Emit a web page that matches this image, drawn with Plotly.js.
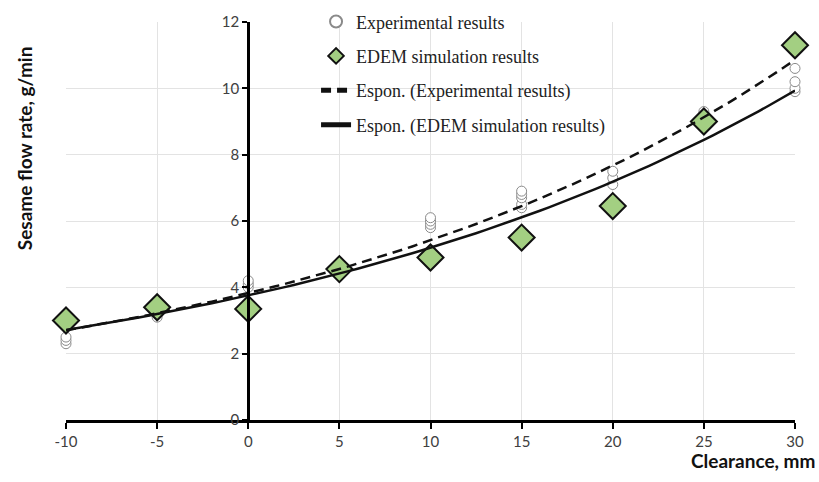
<!DOCTYPE html>
<html>
<head>
<meta charset="utf-8">
<script src="https://cdn.plot.ly/plotly-3.0.1.min.js"></script>
<style>html,body{margin:0;padding:0;background:#fff;}#chart{width:819px;height:482px;}</style>
</head>
<body>
<div id="chart"></div>
<script>
// Clearance (mm) and measured flow rate (g/min)
const expX = [-10,-10,-10,-5,-5,0,0,0,5,5,10,10,10,10,15,15,15,15,15,20,20,20,25,25,30,30,30,30];
const expY = [2.3,2.4,2.5,3.1,3.2,4.0,4.1,4.2,4.6,4.7,5.8,5.9,6.0,6.1,6.4,6.5,6.7,6.8,6.9,7.1,7.3,7.5,9.2,9.3,9.9,10.0,10.2,10.6];
// EDEM simulation results
const simX = [-10,-5,0,5,10,15,20,25,30];
const simY = [3.0,3.4,3.35,4.55,4.9,5.5,6.45,9.0,11.3];
const xTicks = [-10,-5,0,5,10,15,20,25,30];
const yTicks = [0,2,4,6,8,10,12];

// Exponential trendline (least squares on ln y), as in the spreadsheet
function expFit(xs, ys) {
  const n = xs.length;
  const ly = ys.map(Math.log);
  const mx = xs.reduce((a,b)=>a+b,0)/n;
  const my = ly.reduce((a,b)=>a+b,0)/n;
  let sxy = 0, sxx = 0;
  for (let i=0;i<n;i++){ sxy += (xs[i]-mx)*(ly[i]-my); sxx += (xs[i]-mx)*(xs[i]-mx); }
  const b = sxy/sxx; const a = Math.exp(my - b*mx);
  return x => a*Math.exp(b*x);
}
const fExp = expFit(expX, expY);
const fSim = expFit(simX, simY);
const curveX = [];
const x0 = Math.min(...xTicks), x1 = Math.max(...xTicks);
for (let i=0;i<=80;i++) curveX.push(x0 + (x1-x0)*i/80);

const traces = [
  {x: expX, y: expY, mode: 'markers', name: 'Experimental results', legendgroup: 'a', cliponaxis: false,
   marker: {symbol: 'circle', size: 10, color: '#ffffff', line: {color: '#8a8a8a', width: 1}}},
  {x: simX, y: simY, mode: 'markers', name: 'EDEM simulation results', legendgroup: 'b', cliponaxis: false,
   marker: {symbol: 'diamond', size: 20, color: '#a3cf82', line: {color: '#111111', width: 2}}},
  {x: curveX, y: curveX.map(fExp), mode: 'lines', name: 'Espon. (Experimental results)', legendgroup: 'c',
   line: {color: '#111111', width: 2.5, dash: '10px,6px'}},
  {x: curveX, y: curveX.map(fSim), mode: 'lines', name: 'Espon. (EDEM simulation results)', legendgroup: 'd',
   line: {color: '#111111', width: 2.5}}
];

const tickFont = {family: 'Lato, "Open Sans", sans-serif', size: 15, color: '#404040'};
const titleFont = {family: 'Lato, "Open Sans", sans-serif', size: 19, color: '#111111'};
const layout = {
  width: 819, height: 482,
  margin: {l: 66, r: 24, t: 22, b: 62, autoexpand: false},
  paper_bgcolor: '#ffffff', plot_bgcolor: '#ffffff',
  showlegend: true,
  legend: {x: 0.343, y: 1.047, xanchor: 'left', yanchor: 'top', bgcolor: 'rgba(0,0,0,0)',
           traceorder: 'grouped', tracegroupgap: 8, itemsizing: 'constant',
           font: {family: '"Liberation Serif", serif', size: 18, color: '#222222'}},
  xaxis: {range: [-10, 30], tickvals: xTicks, ticktext: xTicks.map(String),
          showgrid: true, gridcolor: '#e3e3e3', gridwidth: 1, zeroline: false,
          showline: true, linecolor: '#000000', linewidth: 3,
          ticks: 'outside', ticklen: 6, tickwidth: 2, tickcolor: '#000000',
          tickfont: tickFont, fixedrange: true},
  yaxis: {range: [0, 12], tickvals: yTicks, ticktext: yTicks.map(String),
          anchor: 'free', position: 0.25,
          showgrid: true, gridcolor: '#e3e3e3', gridwidth: 1, zeroline: false,
          showline: true, linecolor: '#000000', linewidth: 3,
          ticks: 'outside', ticklen: 5, tickwidth: 2, tickcolor: '#000000',
          tickfont: tickFont, fixedrange: true},
  annotations: [
    {text: '<b>Sesame flow rate, g/min</b>', xref: 'paper', yref: 'paper', x: 0, y: 0.683,
     xanchor: 'center', yanchor: 'middle', xshift: -42, textangle: -90, showarrow: false,
     font: titleFont},
    {text: '<b>Clearance, mm</b>', xref: 'paper', yref: 'paper', x: 1, y: 0,
     xanchor: 'right', yanchor: 'middle', xshift: 22, yshift: -40, showarrow: false,
     font: titleFont}
  ]
};
Plotly.newPlot('chart', traces, layout, {displayModeBar: false, staticPlot: true});
</script>
</body>
</html>
